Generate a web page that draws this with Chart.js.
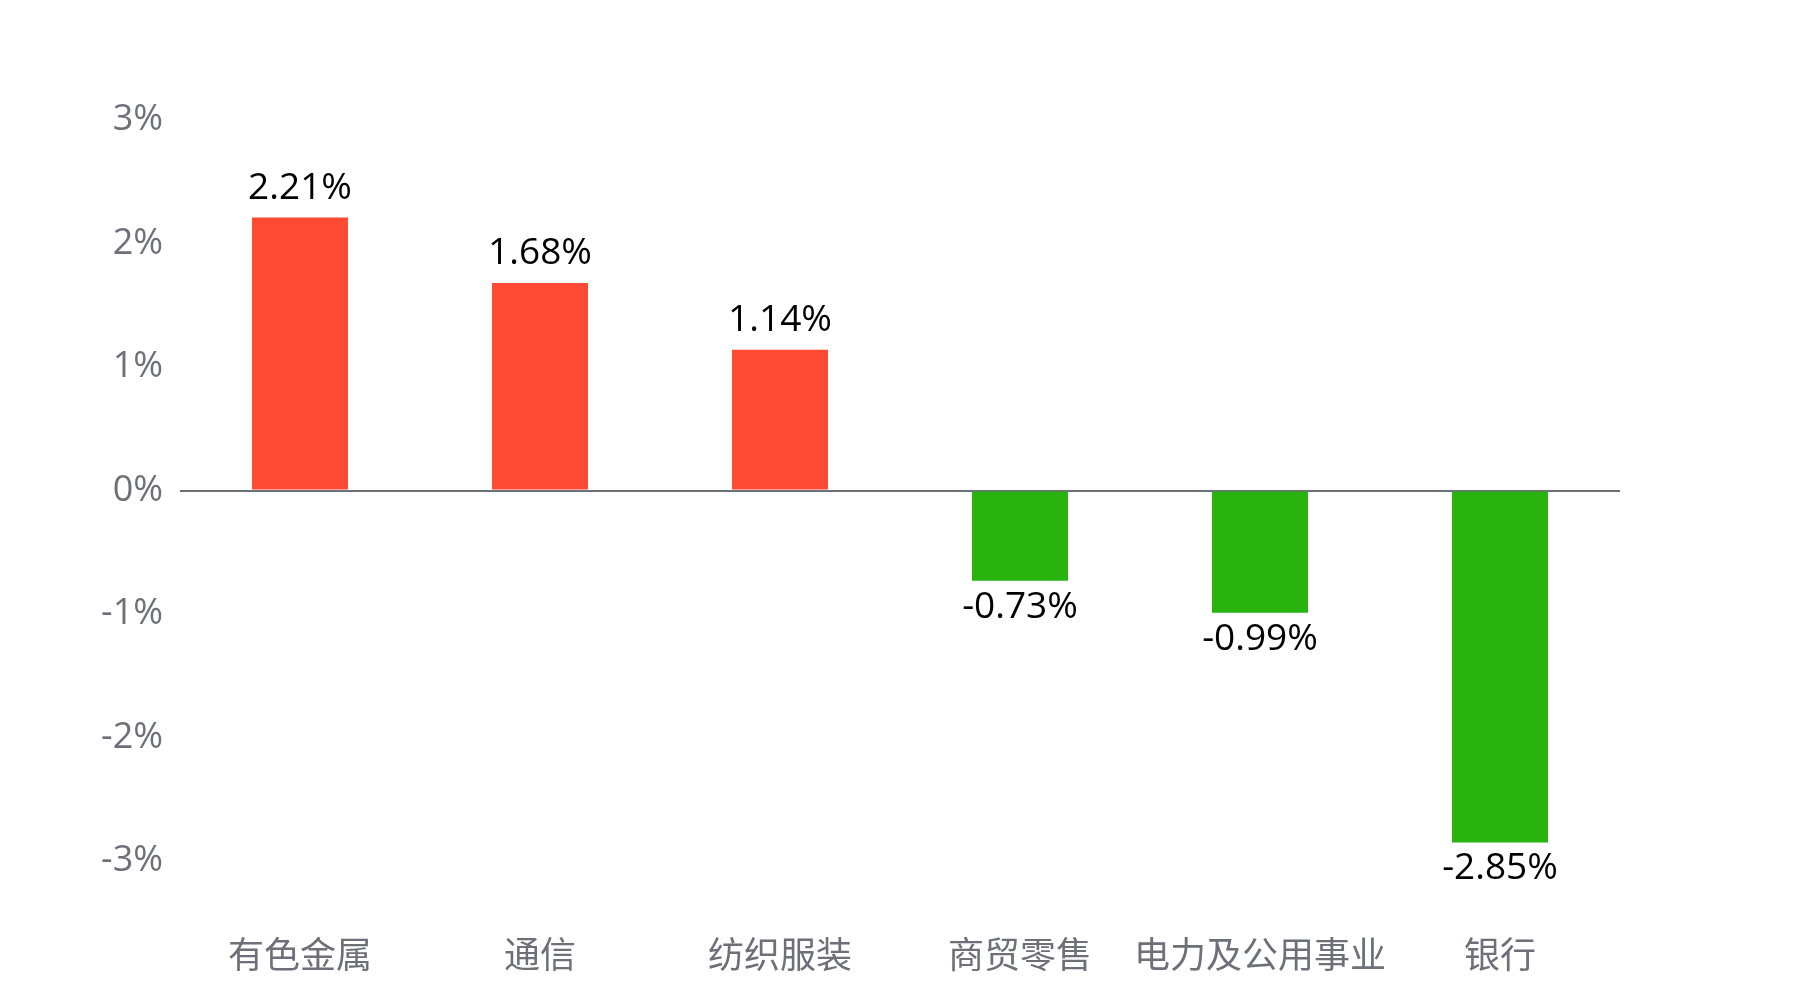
<!DOCTYPE html>
<html>
<head>
<meta charset="utf-8">
<script src="https://cdn.jsdelivr.net/npm/chart.js@4/dist/chart.umd.min.js"></script>
<style>
  html, body { margin: 0; padding: 0; background: #fff; }
  #wrap { width: 1800px; height: 1000px; }
</style>
</head>
<body>
<div id="wrap"><canvas id="chart" width="1800" height="1000"></canvas></div>
<script>
const categories = ["有色金属", "通信", "纺织服装", "商贸零售", "电力及公用事业", "银行"];
const changes = [2.21, 1.68, 1.14, -0.73, -0.99, -2.85];
const yTicks = [-3, -2, -1, 0, 1, 2, 3];

const upColor = "#FF4B33";
const downColor = "#28B30F";
const axisGrey = "#6E7079";
const fontFamily = "'Open Sans', 'Noto Sans CJK SC', sans-serif";

// value labels above / below the bars
const valueLabels = {
    id: "valueLabels",
    afterDatasetsDraw(chart) {
        const ctx = chart.ctx;
        const meta = chart.getDatasetMeta(0);
        ctx.save();
        ctx.font = "37px " + fontFamily;
        ctx.fillStyle = "#000";
        ctx.textAlign = "center";
        ctx.textBaseline = "alphabetic";
        meta.data.forEach((bar, i) => {
            const v = changes[i];
            const text = v.toFixed(2) + "%";
            if (v >= 0) {
                ctx.fillText(text, bar.x, bar.y - 19);
            } else {
                ctx.fillText(text, bar.x, bar.y + 37);
            }
        });
        ctx.restore();
    }
};

new Chart(document.getElementById("chart"), {
    type: "bar",
    data: {
        labels: categories,
        datasets: [{
            data: changes,
            backgroundColor: changes.map(v => v >= 0 ? upColor : downColor),
            barPercentage: 0.4,
            categoryPercentage: 1.0,
            borderWidth: 0
        }]
    },
    options: {
        responsive: false,
        animation: false,
        layout: { padding: { top: 120, right: 180, left: 0, bottom: 0 } },
        plugins: {
            legend: { display: false },
            tooltip: { enabled: false }
        },
        scales: {
            x: {
                grid: { display: false },
                border: { display: false },
                ticks: {
                    color: axisGrey,
                    font: { size: 36, family: fontFamily },
                    padding: 67,
                    maxRotation: 0,
                    autoSkip: false
                },
                afterFit(scale) { scale.height = 139; }
            },
            y: {
                min: -3,
                max: 3,
                border: { display: false },
                grid: {
                    drawTicks: false,
                    lineWidth: ctx => ctx.tick && ctx.tick.value === 0 ? 2 : 0,
                    color: ctx => ctx.tick && ctx.tick.value === 0 ? axisGrey : "rgba(0,0,0,0)"
                },
                afterBuildTicks(scale) {
                    scale.ticks = yTicks.map(v => ({ value: v }));
                },
                ticks: {
                    color: axisGrey,
                    font: { size: 36, family: fontFamily },
                    padding: 17,
                    callback: v => v + "%"
                },
                afterFit(scale) { scale.width = 180; }
            }
        }
    },
    plugins: [valueLabels]
});
</script>
</body>
</html>
